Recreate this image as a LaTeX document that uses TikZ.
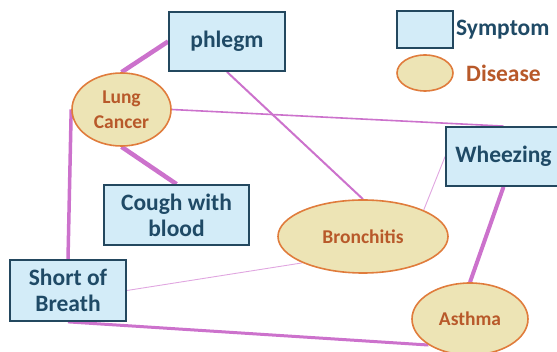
\documentclass[tikz,border=0pt]{standalone}
\usepackage{fontspec}
\setmainfont{Carlito}
\usetikzlibrary{shapes.geometric,backgrounds}
\definecolor{boxfill}{HTML}{D3ECF8}
\definecolor{boxline}{HTML}{23485F}
\definecolor{boxtext}{HTML}{1F4A66}
\definecolor{ellfill}{HTML}{EDE4B5}
\definecolor{ellline}{HTML}{E07C3C}
\definecolor{elltext}{HTML}{B8592A}
\definecolor{edgec}{HTML}{CC72CC}
\definecolor{edgelight}{HTML}{E0A6E0}
\tikzset{
  symbox/.style={draw=boxline, line width=1.8pt, fill=boxfill, text=boxtext,
    font=\bfseries\fontsize{23.5}{26}\selectfont, align=center, inner sep=0pt},
  disell/.style={ellipse, draw=ellline, line width=1.6pt, fill=ellfill, text=elltext,
    font=\bfseries\fontsize{19.5}{25}\selectfont, align=center, inner sep=0pt},
  edge/.style={draw=edgec},
  legtext/.style={anchor=west, font=\bfseries\fontsize{23.5}{26}\selectfont, inner sep=0pt},
}
\begin{document}
\begin{tikzpicture}[x=1pt,y=-1pt]
\useasboundingbox (0,0) rectangle (557,352);
\node[symbox, minimum width=116pt, minimum height=59pt] (phlegm) at (227,41.5) {phlegm};
\node[disell, minimum width=99pt, minimum height=73pt] (lung) at (121.5,109.5) {Lung\\Cancer};
\node[symbox, minimum width=145pt, minimum height=60pt] (cough) at (176.5,215) {Cough with\\blood};
\node[symbox, minimum width=116pt, minimum height=61pt] (sob) at (68,290.5) {Short of\\Breath};
\node[symbox, minimum width=115pt, minimum height=59pt] (wheez) at (503.5,156.5) {Wheezing};
\node[disell, minimum width=170pt, minimum height=73pt] (bron) at (363,236.5) {Bronchitis};
\node[disell, minimum width=116pt, minimum height=72pt] (asthma) at (470,319) {Asthma};
% legend
\node[symbox, minimum width=56pt, minimum height=37pt] (legbox) at (425,29.5) {};
\node[disell, minimum width=56pt, minimum height=36pt] (legell) at (425,73) {};
\node[legtext, text=boxtext] (legsym) at (456,30) {Symptom};
\node[legtext, text=elltext] (legdis) at (466,73) {Disease};
% connectors
\begin{scope}[on background layer]
\draw[edge, line width=4.5pt] (phlegm.west) -- (lung.north);
\draw[edge, line width=4.5pt] (lung.south) -- (cough.north);
\draw[edge, line width=3.5pt] (lung.west) -- (sob.north);
\draw[edge, line width=1.6pt] (lung.east) -- (wheez.north);
\draw[edge, line width=2pt] (phlegm.south) -- (bron.north);
\draw[draw=edgelight, line width=0.9pt] (wheez.west) -- (bron.north east);
\draw[draw=edgelight, line width=0.9pt] (sob.east) -- (bron.south west);
\draw[edge, line width=4pt] (wheez.south) -- (asthma.north);
\draw[edge, line width=3pt] (sob.south) -- (asthma.south west);
\end{scope}
\end{tikzpicture}
\end{document}
